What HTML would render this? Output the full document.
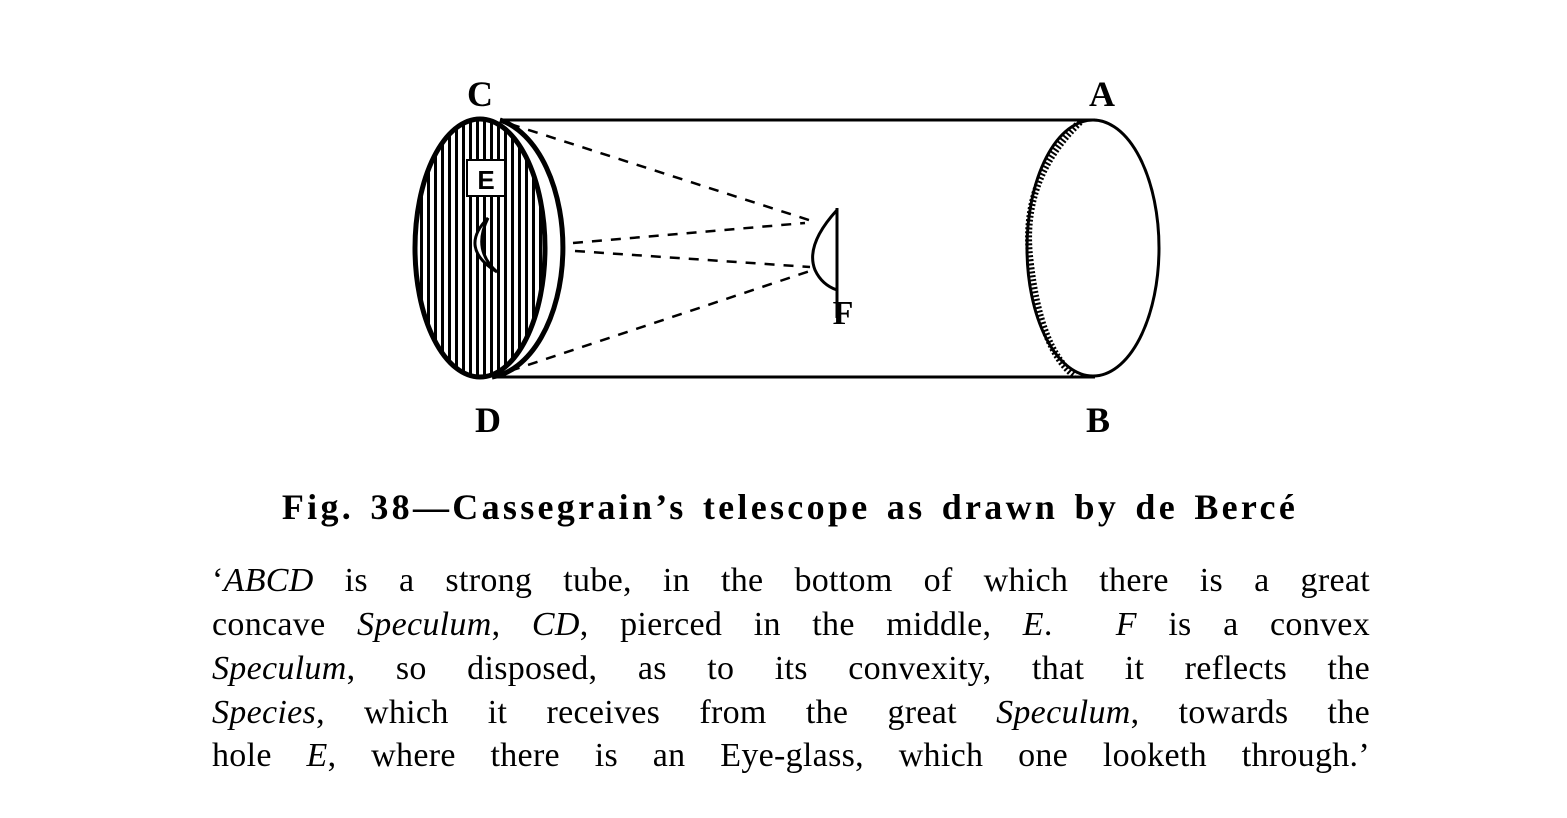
<!DOCTYPE html>
<html><head><meta charset="utf-8"><style>
body{margin:0;background:#fff;width:1567px;height:818px;overflow:hidden;font-family:"Liberation Serif",serif;color:#000}
.cap{position:absolute;left:150px;width:1280px;top:486px;font-weight:bold;font-size:36px;letter-spacing:3.3px;word-spacing:4px;text-align:center;white-space:nowrap}
.l{position:absolute;left:212px;width:1158px;font-size:34px;text-align:justify;text-align-last:justify;white-space:nowrap;line-height:38px;letter-spacing:0.3px}
i{font-style:italic}
</style></head><body>
<svg width="1567" height="470" style="position:absolute;left:0;top:0">
<defs><pattern id="h" width="7" height="10" patternUnits="userSpaceOnUse"><rect x="0" y="0" width="3" height="10" fill="#000"/></pattern></defs>
<line x1="500" y1="120" x2="1095" y2="120" stroke="#000" stroke-width="3"/>
<line x1="497" y1="377" x2="1095" y2="377" stroke="#000" stroke-width="3"/>
<path d="M500 120 A78 130 0 0 1 492 377" fill="none" stroke="#000" stroke-width="5"/>
<ellipse cx="480" cy="248" rx="65" ry="129" fill="url(#h)" stroke="#000" stroke-width="5"/>
<rect x="467" y="160" width="38" height="36" fill="#fff" stroke="#000" stroke-width="2"/>
<text x="486" y="189" font-family="Liberation Sans,sans-serif" font-weight="bold" font-size="26" text-anchor="middle">E</text>
<path d="M488 218 Q458 248 497 272 Q472 250 488 218Z" fill="#fff" stroke="#000" stroke-width="3"/>
<ellipse cx="1093" cy="248" rx="66" ry="128" fill="none" stroke="#000" stroke-width="3"/>
<path d="M1080 122 Q1020 180 1030 260 Q1040 350 1075 376" fill="none" stroke="#000" stroke-width="7" stroke-dasharray="2 2"/>
<g stroke="#000" stroke-width="2.5" stroke-dasharray="10 9" fill="none">
<line x1="510" y1="124" x2="812" y2="221"/>
<line x1="573" y1="243" x2="805" y2="223"/>
<line x1="575" y1="251" x2="810" y2="267"/>
<line x1="510" y1="371" x2="810" y2="271"/>
</g>
<line x1="837" y1="208" x2="837" y2="318" stroke="#000" stroke-width="3"/>
<path d="M837 210 Q805 245 815 270 Q822 285 837 290" fill="none" stroke="#000" stroke-width="3"/>
<g font-weight="bold" font-size="36" text-anchor="middle">
<text x="480" y="106">C</text><text x="1102" y="106">A</text>
<text x="488" y="432">D</text><text x="1098" y="432">B</text>
<text x="843" y="324" font-size="34">F</text>
</g>
</svg>
<div class="cap">Fig. 38—Cassegrain’s telescope as drawn by de Bercé</div>
<div class="l" style="top:562px">‘<i>ABCD</i> is a strong tube, in the bottom of which there is a great</div>
<div class="l" style="top:606px">concave <i>Speculum</i>, <i>CD</i>, pierced in the middle, <i>E</i>. &nbsp;<i>F</i> is a convex</div>
<div class="l" style="top:650px"><i>Speculum</i>, so disposed, as to its convexity, that it reflects the</div>
<div class="l" style="top:694px"><i>Species</i>, which it receives from the great <i>Speculum</i>, towards the</div>
<div class="l" style="top:737px">hole <i>E</i>, where there is an Eye-glass, which one looketh through.’</div>
</body></html>
